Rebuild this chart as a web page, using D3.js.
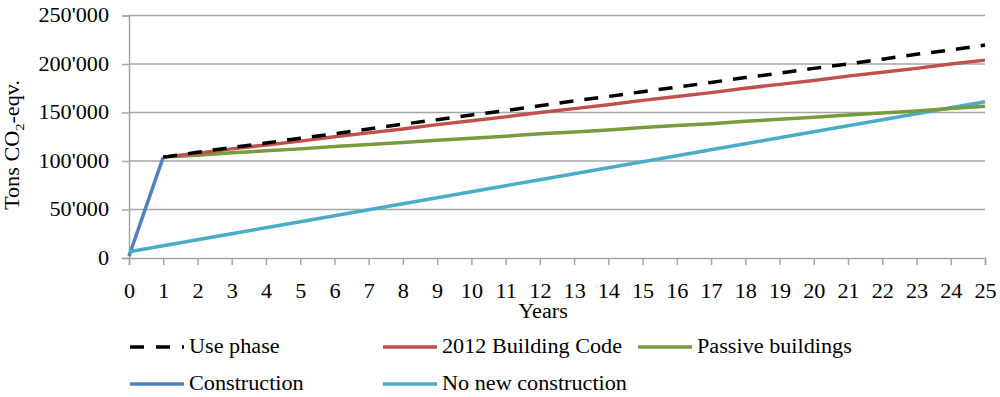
<!DOCTYPE html>
<html>
<head>
<meta charset="utf-8">
<script src="https://cdn.jsdelivr.net/npm/d3@7"></script>
<style>
  body { margin: 0; background: #fff; }
</style>
</head>
<body>
<svg id="chart" width="1000" height="397"></svg>
<script>
const years = d3.range(0, 26);
const yTicks = [0, 50000, 100000, 150000, 200000, 250000];

// values (tons CO2-eqv.)
const constructionYears = [0, 1];
const construction = [2000, 104000];

const phaseYears = [1, 2, 3, 4, 5, 6, 7, 8, 9, 10, 11, 12, 13, 14, 15, 16, 17, 18, 19, 20, 21, 22, 23, 24, 25];
const usePhase = [104000, 109000, 114000, 118500, 123500, 128000, 133000, 138000, 142500, 147500, 152000, 157000, 162000, 166500, 171500, 176000, 181000, 186000, 190500, 195500, 200000, 205000, 210000, 214500, 219500];
const buildingCode = [104000, 108000, 112500, 116500, 120500, 125000, 129000, 133000, 137500, 141500, 145500, 150000, 154000, 158000, 162500, 166500, 170500, 175000, 179000, 183000, 187500, 191500, 195500, 200000, 204000];
const passive = [104000, 106000, 108500, 110500, 112500, 115000, 117000, 119000, 121500, 123500, 125500, 128000, 130000, 132000, 134500, 136500, 138500, 141000, 143000, 145000, 147500, 149500, 151500, 154000, 156500];

const noNewYears = years;
const noNew = [6500, 12700, 18900, 25000, 31200, 37400, 43600, 49800, 56000, 62100, 68300, 74500, 80700, 86900, 93100, 99200, 105400, 111600, 117800, 124000, 130200, 136300, 142500, 148700, 154900, 161000];

const series = [
  { name: "Use phase", xs: phaseYears, ys: usePhase, color: "#000000", dash: "14,11" },
  { name: "2012 Building Code", xs: phaseYears, ys: buildingCode, color: "#C0504D" },
  { name: "Passive buildings", xs: phaseYears, ys: passive, color: "#779B3D" },
  { name: "Construction", xs: constructionYears, ys: construction, color: "#4F81BD" },
  { name: "No new construction", xs: noNewYears, ys: noNew, color: "#4BACC6" }
];

const serif = "'Liberation Serif', 'Times New Roman', serif";
const svg = d3.select("#chart");
const x = d3.scaleLinear().domain([0, 25]).range([129, 985]);
const y = d3.scaleLinear().domain([0, 250000]).range([258, 15.5]);
const grid = "#a6a6a6";

// left ticks
const yAxis = svg.append("g").attr("transform", "translate(129,0)")
  .call(d3.axisLeft(y).tickValues(yTicks).tickSize(7).tickPadding(13)
    .tickFormat(d => d3.format(",")(d).replace(/,/g, "'")));
yAxis.select(".domain").attr("stroke", grid).attr("stroke-width", 1.5);
yAxis.selectAll(".tick line").attr("stroke", grid).attr("stroke-width", 1.5);
yAxis.selectAll(".tick text").attr("class", "lbl").attr("fill", "#000");

// horizontal gridlines
svg.append("g").selectAll("line")
  .data(yTicks.filter(d => d > 0))
  .join("line")
  .attr("x1", 129).attr("x2", 985)
  .attr("y1", d => y(d)).attr("y2", d => y(d))
  .attr("stroke", grid).attr("stroke-width", 1.5);

const xAxis = svg.append("g").attr("transform", "translate(0,258)")
  .call(d3.axisBottom(x).tickValues(years).tickSize(7).tickPadding(19).tickFormat(d3.format("d")));
xAxis.select(".domain").attr("stroke", grid).attr("stroke-width", 1.5);
xAxis.selectAll(".tick line").attr("stroke", grid).attr("stroke-width", 1.5);
xAxis.selectAll(".tick text").attr("class", "lbl").attr("fill", "#000");

// axis titles
svg.append("text")
  .attr("class", "lbl")
  .attr("transform", "translate(19,145) rotate(-90)")
  .attr("text-anchor", "middle")
  .html('Tons CO<tspan dy="5" style="font-size:13px">2</tspan><tspan dy="-5">-eqv.</tspan>');

svg.append("text")
  .attr("class", "lbl")
  .attr("x", 543).attr("y", 318)
  .attr("text-anchor", "middle")
  .text("Years");

// lines
const line = d3.line().x(d => x(d[0])).y(d => y(d[1]));
const drawOrder = [3, 4, 2, 1, 0];
drawOrder.forEach(i => {
  const s = series[i];
  svg.append("path")
    .datum(s.xs.map((v, j) => [v, s.ys[j]]))
    .attr("d", line)
    .attr("fill", "none")
    .attr("stroke", s.color)
    .attr("stroke-width", 3.5)
    .attr("stroke-dasharray", s.dash || null);
});

// legend
const legendPos = [
  { x: 130, y: 347 }, { x: 383, y: 347 }, { x: 638, y: 347 },
  { x: 130, y: 384 }, { x: 383, y: 384 }
];
series.forEach((s, i) => {
  const p = legendPos[i];
  svg.append("line")
    .attr("x1", p.x).attr("x2", p.x + 54)
    .attr("y1", p.y).attr("y2", p.y)
    .attr("stroke", s.color)
    .attr("stroke-width", 3.5)
    .attr("stroke-dasharray", s.dash ? "14,12" : null);
  svg.append("text")
    .attr("class", "lbl")
    .attr("x", p.x + 59).attr("y", p.y + 5.5)
    .text(s.name);
});

// the reference text is a little wider than Liberation Serif, stretch it
svg.selectAll("text.lbl")
  .style("font-family", serif)
  .style("font-size", "20px")
  .each(function () {
    const w = this.getComputedTextLength();
    d3.select(this).attr("textLength", w * 1.11).attr("lengthAdjust", "spacingAndGlyphs");
  });
</script>
</body>
</html>
